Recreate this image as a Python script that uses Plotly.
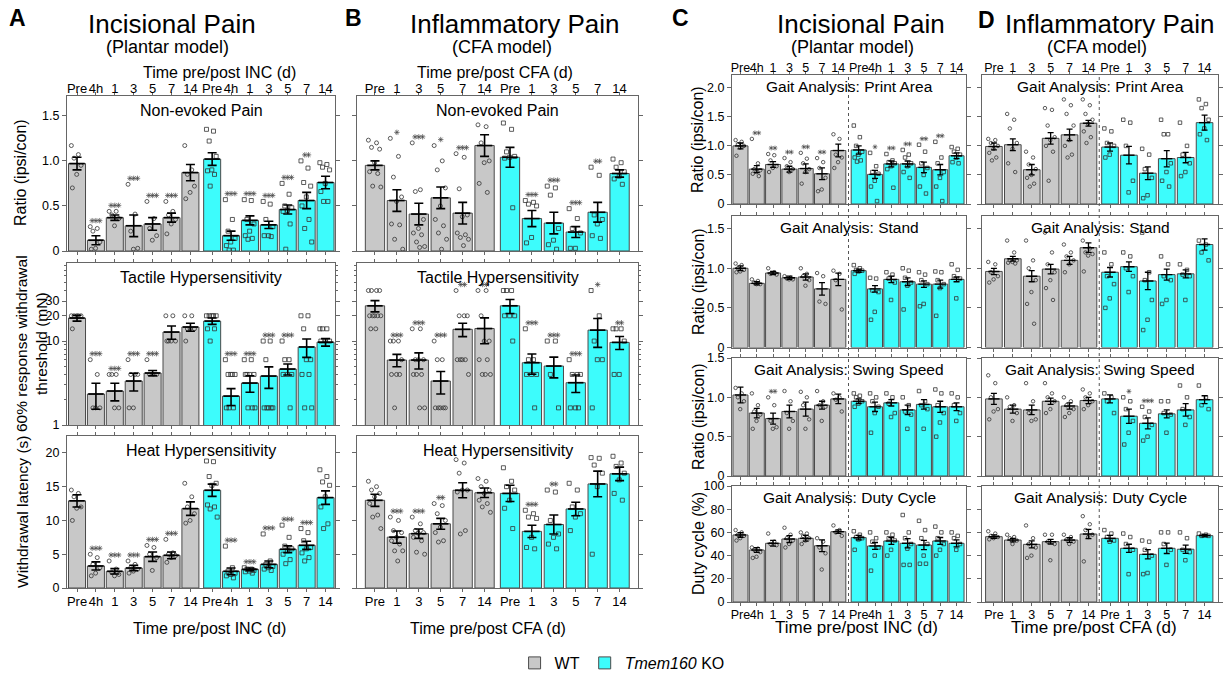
import numpy as np
import plotly.graph_objects as go

W, H = 1227, 675
FONT = 'Liberation Sans, Arial, sans-serif'
GRAY = '#c8c8c8'
CYAN = '#3dfcfc'
EDGE = '#4a4a4a'
LINE = '#666666'
PT = '#333333'

# ---------------- categories ----------------
INC_LABELS = ['Pre', '4h', '1', '3', '5', '7', '14']
CFA_LABELS = ['Pre', '1', '3', '5', '7', '14']

# ---------------- A: Incisional, Non-evoked ----------------
A1_WT = [0.97, 0.12, 0.37, 0.28, 0.30, 0.37, 0.87]
A1_WT_ERR = [0.07, 0.05, 0.03, 0.12, 0.07, 0.05, 0.09]
A1_KO = [1.02, 0.17, 0.34, 0.29, 0.46, 0.56, 0.76]
A1_KO_ERR = [0.07, 0.05, 0.05, 0.04, 0.05, 0.09, 0.07]
A1_WT_SIG = [0, 3, 3, 3, 3, 3, 0]
A1_KO_SIG = [0, 3, 3, 3, 3, 2, 0]
A1_WT_PTS = [[1.17, 1.07, 1.03, 0.95, 0.85, 0.70], [0.27, 0.25, 0.22, 0.10, 0.03, 0.02],
             [0.44, 0.44, 0.40, 0.36, 0.28], [0.74, 0.41, 0.22, 0.03, 0.02],
             [0.55, 0.36, 0.25, 0.17, 0.12], [0.55, 0.44, 0.40, 0.35, 0.30, 0.19],
             [1.17, 0.90, 0.85, 0.72, 0.65, 0.58]]
A1_KO_PTS = [[1.35, 1.33, 1.22, 1.05, 0.90, 0.89, 0.85, 0.72], [0.57, 0.35, 0.22, 0.14, 0.10, 0.06, 0.01, 0.01],
             [0.57, 0.56, 0.35, 0.30, 0.22, 0.17, 0.14, 0.13], [0.55, 0.52, 0.35, 0.27, 0.17, 0.17, 0.16],
             [0.75, 0.63, 0.50, 0.48, 0.45, 0.44, 0.30, 0.02], [1.00, 0.92, 0.76, 0.72, 0.60, 0.50, 0.35, 0.25, 0.10],
             [0.98, 0.96, 0.93, 0.90, 0.75, 0.66, 0.55, 0.55]]

# ---------------- A: Tactile ----------------
A2_WT = [18.8, 2.34, 2.54, 3.34, 4.16, 12.8, 14.7]
A2_WT_ERR = [1.5, 0.8, 0.6, 0.8, 0.3, 2.3, 1.6]
A2_KO = [17.3, 2.21, 3.16, 3.83, 4.64, 8.5, 9.7]
A2_KO_ERR = [1.5, 0.5, 0.7, 1.1, 0.7, 2.1, 1.0]
A2_WT_SIG = [0, 3, 3, 3, 3, 0, 0]
A2_KO_SIG = [0, 3, 3, 3, 3, 0, 0]
A2_WT_PTS = [[20, 20, 20, 20, 20, 14], [6, 4, 1.6, 1.6, 1.6], [4, 4, 4, 1.6, 1.6], [6, 4, 4, 4, 1.6, 1.6],
             [6, 4, 4, 4, 4], [20, 20, 10, 10, 10, 10], [20, 20, 14, 14, 14, 10]]
A2_KO_PTS = [[20, 20, 20, 20, 20, 14, 14, 10], [6, 4, 4, 4, 4, 1.6, 1.6, 1.6], [6, 6, 4, 4, 4, 4, 1.6, 1.6, 1.6],
             [10, 10, 6, 1.6, 1.6, 1.6, 1.6, 1.6], [10, 6, 6, 4, 4, 4, 1.6], [20, 20, 14, 6, 6, 4, 4, 1.6, 1.6],
             [14, 14, 14, 10, 10, 10]]

# ---------------- A: Heat ----------------
A3_WT = [12.9, 3.26, 2.47, 2.96, 4.64, 4.84, 11.75]
A3_WT_ERR = [0.9, 0.6, 0.4, 0.4, 0.7, 0.5, 1.0]
A3_KO = [14.47, 2.47, 2.76, 3.5, 5.73, 6.32, 13.38]
A3_KO_ERR = [0.9, 0.5, 0.2, 0.5, 0.5, 0.6, 1.0]
A3_WT_SIG = [0, 3, 3, 3, 3, 3, 0]
A3_KO_SIG = [0, 3, 3, 3, 3, 3, 0]
A3_WT_PTS = [[14.5, 14.0, 13.5, 12.0, 11.8, 10.0], [5.0, 4.5, 3.5, 3.0, 2.2, 1.8], [4.0, 2.8, 2.3, 2.0, 1.8],
             [4.0, 3.5, 3.0, 2.8, 2.5, 2.2], [6.3, 6.0, 5.0, 4.5, 2.6], [7.2, 5.2, 5.0, 4.8, 4.5, 3.8],
             [15.5, 13.5, 12.0, 11.0, 10.0, 9.6]]
A3_KO_PTS = [[18.8, 18.7, 16.5, 15.5, 15.2, 12.3, 12.0, 11.7, 10.5], [6.2, 3.0, 2.5, 2.2, 2.0, 1.8, 1.5],
             [3.0, 2.8, 2.8, 2.6, 2.5, 2.4, 2.2], [8.0, 4.0, 3.5, 3.2, 3.0, 2.8, 2.6],
             [9.3, 7.5, 6.2, 5.8, 5.5, 5.0, 4.2, 3.6], [8.8, 8.2, 7.0, 6.0, 5.8, 5.2, 4.5, 4.0],
             [17.5, 16.5, 15.7, 15.2, 13.5, 12.0, 9.5, 8.8]]

# ---------------- B: Inflammatory, Non-evoked ----------------
B1_WT = [0.95, 0.56, 0.41, 0.59, 0.42, 1.17]
B1_WT_ERR = [0.05, 0.12, 0.12, 0.12, 0.12, 0.12]
B1_KO = [1.04, 0.36, 0.31, 0.21, 0.43, 0.86]
B1_KO_ERR = [0.11, 0.09, 0.12, 0.06, 0.11, 0.04]
B1_WT_SIG = [0, 1, 3, 1, 3, 0]
B1_KO_SIG = [0, 3, 3, 3, 2, 0]
B1_WT_PTS = [[1.23, 1.20, 1.15, 1.13, 0.98, 0.88, 0.86, 0.72, 0.71],
             [1.25, 1.05, 0.82, 0.60, 0.55, 0.30, 0.29, 0.13, 0.02],
             [1.20, 0.68, 0.66, 0.35, 0.25, 0.20, 0.18, 0.10, 0.05, 0.04],
             [1.17, 1.00, 0.90, 0.70, 0.50, 0.35, 0.28, 0.20, 0.13, 0.02],
             [1.08, 1.04, 0.69, 0.40, 0.38, 0.20, 0.18, 0.15, 0.13, 0.06],
             [1.40, 1.38, 1.20, 1.00, 0.98, 0.75, 0.65]]
B1_KO_PTS = [[1.42, 1.35, 1.10, 1.05, 1.04, 1.03, 0.48], [0.56, 0.54, 0.52, 0.50, 0.15, 0.09],
             [0.72, 0.70, 0.62, 0.25, 0.12, 0.07, 0.02], [0.47, 0.36, 0.25, 0.20, 0.03, 0.03],
             [0.93, 0.84, 0.40, 0.35, 0.30, 0.17, 0.14], [1.02, 0.98, 0.93, 0.88, 0.83, 0.80, 0.74]]

# ---------------- B: Tactile ----------------
B2_WT = [26.3, 5.94, 5.94, 3.34, 13.8, 14.1]
B2_WT_ERR = [4.0, 1.0, 1.3, 1.0, 2.5, 4.8]
B2_KO = [26.3, 5.52, 5.04, 3.19, 13.5, 9.64]
B2_KO_ERR = [5.0, 1.5, 1.4, 0.75, 5.1, 1.7]
B2_WT_SIG = [0, 3, 3, 3, 2, 2]
B2_KO_SIG = [0, 3, 3, 3, 1, 2]
B2_WT_PTS = [[40, 40, 40, 40, 20, 20, 20, 20, 20, 14, 14], [10, 10, 10, 6, 4, 4, 4, 1.6],
             [14, 14, 6, 6, 6, 4, 4, 4, 1.6, 1.6], [10, 6, 6, 1.6, 1.6, 1.6, 1.6, 1.6],
             [40, 20, 20, 20, 6, 6, 6, 6, 4], [40, 40, 20, 10, 10, 6, 6, 4, 4, 4]]
B2_KO_PTS = [[40, 40, 40, 20, 20, 20, 10], [14, 6, 6, 4, 4, 4, 1.6], [10, 10, 4, 1.6],
             [6, 4, 4, 4, 1.6, 1.6, 1.6], [40, 20, 10, 6, 6, 1.6], [14, 14, 14, 10, 4, 4]]

# ---------------- B: Heat ----------------
B3_WT = [12.98, 7.53, 8.04, 9.5, 14.47, 14.1]
B3_WT_ERR = [0.9, 0.9, 0.7, 0.8, 1.1, 0.7]
B3_KO = [14.0, 8.38, 9.4, 11.7, 15.4, 16.9]
B3_KO_ERR = [1.2, 0.9, 1.4, 1.0, 1.9, 1.0]
B3_WT_SIG = [0, 3, 3, 2, 0, 0]
B3_KO_SIG = [0, 3, 2, 0, 0, 0]
B3_WT_PTS = [[15.8, 15.0, 14.5, 14.0, 13.5, 12.5, 10.8, 10.5, 8.8],
             [10.5, 10.0, 8.5, 8.2, 7.5, 7.0, 6.5, 5.5, 5.5, 4.0],
             [10.5, 9.5, 8.5, 8.2, 8.1, 7.5, 7.0, 5.3, 5.0], [12.5, 12.2, 11.0, 10.0, 9.0, 8.2, 7.0, 6.8],
             [19.0, 18.5, 17.0, 14.5, 14.5, 14.2, 8.5, 8.0], [16.2, 15.8, 15.0, 14.5, 14.0, 13.0, 12.5, 12.0, 11.2]]
B3_KO_PTS = [[17.8, 15.8, 15.0, 14.5, 13.0, 11.8, 8.8], [11.5, 11.0, 10.5, 10.3, 7.5, 6.0, 5.8],
             [14.5, 14.2, 10.0, 8.0, 7.5, 6.5, 5.8], [15.5, 14.5, 12.0, 11.0, 10.5, 8.5],
             [19.3, 19.2, 18.2, 17.0, 15.0, 5.0], [19.5, 18.5, 18.0, 17.0, 16.0, 14.0, 13.0]]

# ---------------- C: Gait, incisional ----------------
C1_WT = [1.00, 0.60, 0.68, 0.60, 0.61, 0.52, 0.92]
C1_WT_ERR = [0.05, 0.06, 0.05, 0.05, 0.08, 0.10, 0.11]
C1_KO = [0.93, 0.51, 0.69, 0.69, 0.63, 0.59, 0.83]
C1_KO_ERR = [0.07, 0.07, 0.05, 0.05, 0.09, 0.09, 0.05]
C1_WT_SIG = [0, 2, 2, 2, 2, 2, 0]
C1_KO_SIG = [0, 1, 2, 2, 2, 2, 0]
C1_WT_PTS = [[1.10, 1.07, 1.03, 1.00, 0.97, 0.83], [1.12, 0.70, 0.60, 0.58, 0.55, 0.52, 0.48],
             [0.86, 0.84, 0.75, 0.65, 0.62, 0.55], [0.79, 0.72, 0.65, 0.60, 0.55],
             [0.88, 0.78, 0.70, 0.60, 0.55, 0.35], [0.79, 0.72, 0.62, 0.45, 0.25, 0.22],
             [1.20, 1.12, 0.85, 0.80, 0.72, 0.62]]
C1_KO_PTS = [[1.35, 1.15, 1.00, 0.90, 0.85, 0.80, 0.75, 0.73], [0.88, 0.65, 0.55, 0.52, 0.40, 0.30, 0.05],
             [0.86, 0.75, 0.72, 0.70, 0.65, 0.60, 0.28], [0.93, 0.85, 0.80, 0.70, 0.65, 0.55, 0.45],
             [1.02, 0.90, 0.70, 0.62, 0.50, 0.30, 0.18], [1.07, 0.80, 0.70, 0.55, 0.45, 0.30, 0.05],
             [0.98, 0.95, 0.90, 0.85, 0.80, 0.72, 0.70]]

C2_WT = [1.00, 0.81, 0.94, 0.88, 0.89, 0.74, 0.86]
C2_WT_ERR = [0.03, 0.02, 0.02, 0.02, 0.04, 0.08, 0.08]
C2_KO = [0.97, 0.74, 0.86, 0.83, 0.80, 0.80, 0.86]
C2_KO_ERR = [0.02, 0.04, 0.04, 0.05, 0.04, 0.05, 0.03]
C2_WT_PTS = [[1.06, 1.04, 1.00, 0.98, 0.96, 0.95], [0.86, 0.84, 0.82, 0.80, 0.80], [1.00, 0.95, 0.93, 0.92],
             [0.90, 0.88, 0.87, 0.86, 0.86], [1.00, 0.93, 0.90, 0.85, 0.78], [0.94, 0.90, 0.58, 0.55],
             [0.97, 0.93, 0.85, 0.48]]
C2_KO_PTS = [[1.04, 1.00, 0.98, 0.97, 0.96, 0.93], [0.88, 0.87, 0.72, 0.70, 0.45, 0.35],
             [0.95, 0.92, 0.87, 0.82, 0.60], [1.00, 0.97, 0.88, 0.82, 0.78, 0.48],
             [0.95, 0.92, 0.85, 0.80, 0.55, 0.52], [0.96, 0.95, 0.85, 0.80, 0.75, 0.40],
             [1.05, 0.98, 0.90, 0.87, 0.62]]

C3_WT = [1.03, 0.80, 0.73, 0.82, 0.85, 0.90, 0.98]
C3_WT_ERR = [0.10, 0.06, 0.07, 0.08, 0.09, 0.05, 0.06]
C3_KO = [0.95, 0.88, 0.93, 0.84, 0.91, 0.88, 0.88]
C3_KO_ERR = [0.03, 0.06, 0.04, 0.06, 0.06, 0.07, 0.05]
C3_WT_SIG = [0, 0, 2, 0, 0, 0, 0]
C3_WT_PTS = [[1.12, 1.05, 1.00, 0.95, 0.85], [1.05, 0.90, 0.82, 0.78, 0.70, 0.60], [1.00, 0.90, 0.70, 0.62, 0.60],
             [1.08, 0.95, 0.80, 0.70, 0.60], [1.07, 1.00, 0.90, 0.72, 0.60], [1.08, 0.95, 0.90, 0.88, 0.70],
             [1.05, 1.00, 0.97, 0.82]]
C3_KO_PTS = [[1.05, 1.02, 1.00, 0.95, 0.92, 0.88], [1.05, 1.00, 0.95, 0.88, 0.80, 0.55],
             [1.05, 1.00, 0.92, 0.80, 0.75], [1.00, 0.90, 0.82, 0.78, 0.60], [1.08, 0.95, 0.90, 0.85, 0.60],
             [1.10, 1.05, 0.90, 0.80, 0.68, 0.50], [1.05, 1.00, 0.90, 0.80, 0.70]]

C4_WT = [57.8, 44.8, 50.6, 54.3, 54.9, 48.5, 60.6]
C4_WT_ERR = [2, 2, 2.5, 3, 2.5, 5, 1.5]
C4_KO = [55.5, 48.3, 52.6, 50.6, 49.1, 52.6, 50.6]
C4_KO_ERR = [2, 3, 3, 4, 4, 3, 3]
C4_WT_PTS = [[62, 60, 58, 57, 55, 53], [47, 46, 45, 43, 39, 38], [59, 52, 50, 49], [64, 58, 55, 53, 50, 47],
             [60, 59, 57, 55, 53, 50], [55, 52, 47, 42, 28], [66, 62, 60, 57]]
C4_KO_PTS = [[61, 58, 56, 55, 54, 45], [60, 55, 52, 47, 40, 27], [60, 58, 55, 53, 45, 40],
             [75, 60, 55, 50, 46, 32, 32], [70, 62, 55, 50, 40, 33, 33], [65, 60, 55, 50, 45, 40],
             [60, 57, 55, 50, 45]]

# ---------------- D: Gait, inflammatory ----------------
D1_WT = [0.99, 1.02, 0.59, 1.13, 1.19, 1.39]
D1_WT_ERR = [0.06, 0.10, 0.09, 0.10, 0.10, 0.05]
D1_KO = [0.98, 0.84, 0.53, 0.78, 0.80, 1.40]
D1_KO_ERR = [0.07, 0.15, 0.11, 0.14, 0.09, 0.13]
D1_WT_PTS = [[1.12, 1.10, 1.05, 1.00, 0.95, 0.88, 0.80, 0.75], [1.55, 1.45, 1.30, 1.05, 0.95, 0.70, 0.55],
             [0.90, 0.80, 0.68, 0.60, 0.50, 0.45, 0.35, 0.30], [1.65, 1.62, 1.35, 1.15, 1.10, 1.00, 0.90, 0.40],
             [1.80, 1.70, 1.55, 1.35, 1.10, 1.00, 0.85, 0.80], [1.80, 1.70, 1.55, 1.45, 1.38, 1.25, 1.15, 1.05]]
D1_KO_PTS = [[1.30, 1.25, 1.05, 1.00, 0.85, 0.80], [1.45, 1.40, 1.00, 0.40, 0.20],
             [0.95, 0.85, 0.60, 0.45, 0.15, 0.10], [1.45, 1.20, 1.20, 0.70, 0.55, 0.40, 0.30],
             [1.40, 1.00, 0.85, 0.70, 0.55, 0.48], [1.80, 1.72, 1.65, 1.45, 1.30, 1.20, 1.10]]

D2_WT = [0.96, 1.12, 0.90, 0.99, 1.10, 1.26]
D2_WT_ERR = [0.04, 0.03, 0.07, 0.06, 0.05, 0.06]
D2_KO = [0.95, 1.02, 0.84, 0.92, 0.93, 1.30]
D2_KO_ERR = [0.06, 0.06, 0.11, 0.07, 0.05, 0.07]
D2_WT_PTS = [[1.08, 1.05, 0.95, 0.90, 0.86, 0.82], [1.35, 1.20, 1.10, 1.10, 1.08, 1.07, 1.06],
             [1.35, 1.10, 1.00, 0.85, 0.70, 0.55, 0.30], [1.45, 1.20, 1.05, 0.95, 0.85, 0.75, 0.60],
             [1.30, 1.20, 1.15, 1.10, 1.05, 0.95], [1.35, 1.25, 1.20, 1.18, 1.16, 0.96]]
D2_KO_PTS = [[1.20, 1.05, 0.90, 0.80, 0.62, 0.50], [1.20, 1.15, 1.00, 0.90, 0.70],
             [1.45, 0.95, 0.85, 0.60, 0.35, 0.22], [1.15, 1.05, 0.90, 0.85, 0.60, 0.55],
             [1.05, 0.98, 0.92, 0.90, 0.60], [1.35, 1.30, 1.20, 1.10]]

D3_WT = [0.98, 0.85, 0.84, 0.95, 0.89, 0.96]
D3_WT_ERR = [0.07, 0.05, 0.06, 0.04, 0.04, 0.04]
D3_KO = [0.98, 0.76, 0.67, 0.79, 0.84, 0.97]
D3_KO_ERR = [0.05, 0.09, 0.07, 0.05, 0.08, 0.05]
D3_KO_SIG = [0, 1, 3, 0, 0, 0]
D3_WT_PTS = [[1.28, 1.18, 1.00, 0.85, 0.82, 0.72], [1.00, 0.90, 0.88, 0.80, 0.70], [1.18, 0.95, 0.80, 0.72, 0.70],
             [1.18, 1.05, 1.00, 0.95, 0.85, 0.80], [1.00, 0.95, 0.90, 0.85, 0.80, 0.75],
             [1.10, 1.05, 1.00, 0.95, 0.90, 0.85]]
D3_KO_PTS = [[1.05, 1.00, 0.95, 0.80], [1.00, 0.95, 0.85, 0.70, 0.55, 0.40], [0.88, 0.82, 0.75, 0.65, 0.50, 0.45],
             [0.95, 0.95, 0.80, 0.78, 0.55], [1.15, 1.00, 0.85, 0.75, 0.65], [1.15, 1.00, 0.90, 0.85]]

D4_WT = [56.3, 53.4, 49.7, 52.0, 53.4, 58.6]
D4_WT_ERR = [1.5, 1.5, 3, 2, 2, 4]
D4_KO = [54.9, 46.3, 41.1, 46.3, 45.5, 57.2]
D4_KO_ERR = [2.5, 3.5, 4, 4.5, 3.5, 1]
D4_WT_PTS = [[61, 59, 57, 56, 55, 54], [58, 56, 55, 53, 50], [66, 55, 50, 47, 40, 38], [58, 58, 52, 50, 36],
             [58, 56, 54, 52, 50], [74, 67, 62, 58, 56, 35]]
D4_KO_PTS = [[62, 59, 56, 53, 52], [59, 56, 50, 45, 24], [53, 52, 45, 40, 25, 24], [60, 60, 50, 45, 32],
             [60, 55, 45, 43, 36], [59, 58, 57, 57]]

# ---------------- tick specs ----------------
T_RATIO = ([0, 0.5, 1, 1.5], ['0', '0.5', '1.0', '1.5'])
T_LOG = ([1, 10, 20, 30], ['1', '10', '20', '30'])
T_HEAT = ([0, 5, 10, 15, 20], ['0', '5', '10', '15', '20'])
T_GAIT1 = ([0, 0.5, 1, 1.5, 2], ['0', '0.5', '1.0', '1.5', '2.0'])
T_DUTY = ([0, 20, 40, 60, 80, 100], ['0', '20', '40', '60', '80', '100'])
LOG_MINOR = [2, 3, 4, 5, 6, 7, 8, 9, 40, 50, 60, 70, 80]

# ---------------- layout geometry (pixels) ----------------
COLS = {
    'A': dict(x0=67, x1=335, xr=[-0.53, 13.65], ko0=7.15, n=7, labels=INC_LABELS, bw=0.9, ylab=True),
    'B': dict(x0=357, x1=638, xr=[-0.82, 12.0], ko0=6.16, n=6, labels=CFA_LABELS, bw=0.88, ylab=False),
    'C': dict(x0=732, x1=966, xr=[-0.52, 13.83], ko0=7.25, n=7, labels=INC_LABELS, bw=0.92, ylab=True),
    'D': dict(x0=982, x1=1218, xr=[-0.63, 11.85], ko0=6.14, n=6, labels=CFA_LABELS, bw=0.88, ylab=False),
}
ROWS_AB = [(96, 251), (263, 425), (436, 588)]
ROWS_CD = [(75, 204), (216, 347.5), (358, 476), (486, 602)]

fig = go.Figure()
axes_layout = {}
annotations = []


def jitter(n, half=0.3):
    if n == 1:
        return [0.0]
    return [(((k * 0.618034) % 1.0) - 0.5) * 2 * half for k in range(n)]


def ax_names(n):
    s = '' if n == 1 else str(n)
    return 'x' + s, 'y' + s, 'xaxis' + s, 'yaxis' + s


def add_panel(n, col, box, yr, ylog, yt, title, kind, wt, wte, ko, koe, wtp, kop,
              wts=None, kos=None, legend=False):
    c = COLS[col]
    xn, yn, xk, yk = ax_names(n)
    pw = np.arange(c['n'], dtype=float)
    pk = c['ko0'] + np.arange(c['n'])
    y0, y1 = box
    hpx = y1 - y0
    px_per_unit = (c['x1'] - c['x0']) / (c['xr'][1] - c['xr'][0])
    small = col in 'CD'
    groups = [(pw, wt, wte, wtp, wts, GRAY, 'circle-open', 'WT'),
              (pk, ko, koe, kop, kos, CYAN, 'square-open', '<i>Tmem160</i> KO')]
    for pos, m, e, pts, sig, color, sym, name in groups:
        fig.add_trace(go.Bar(x=pos, y=m, width=c['bw'], name=name, showlegend=legend,
                             marker=dict(color=color, line=dict(color=EDGE, width=1)),
                             xaxis=xn, yaxis=yn, hoverinfo='skip'))
        xs, ys = [], []
        for p, vals in zip(pos, pts):
            for o, v in zip(jitter(len(vals), 0.3), vals):
                xs.append(p + o)
                ys.append(v)
        fig.add_trace(go.Scatter(x=xs, y=ys, mode='markers', showlegend=False, hoverinfo='skip',
                                 marker=dict(symbol=sym, size=3.5 if small else 4, color=PT,
                                             line=dict(width=0.8, color=PT)),
                                 xaxis=xn, yaxis=yn))
        fig.add_trace(go.Scatter(x=pos, y=m, mode='markers', showlegend=False, hoverinfo='skip',
                                 marker=dict(symbol='line-ew', size=8 if small else 11,
                                             line=dict(width=1.4 if small else 1.7, color='black')),
                                 error_y=dict(type='data', array=e, color='black',
                                              thickness=1.3 if small else 1.6, width=3 if small else 4.5),
                                 xaxis=xn, yaxis=yn))
        if sig:
            # significance stars drawn as small asterisk markers above the highest mark
            span = yr[1] - yr[0]
            dx = 3.8 / px_per_unit
            sx, sy = [], []
            for p, mm, ee, vals, s in zip(pos, m, e, pts, sig):
                if not s:
                    continue
                top = max(max(vals), mm + ee)
                if ylog:
                    yv = 10 ** (np.log10(top) + 6 * span / hpx)
                else:
                    yv = top + 6 * span / hpx
                for k in range(s):
                    sx.append(p + (k - (s - 1) / 2) * dx)
                    sy.append(yv)
            fig.add_trace(go.Scatter(x=sx, y=sy, mode='markers', showlegend=False, hoverinfo='skip',
                                     cliponaxis=False,
                                     marker=dict(symbol='asterisk-open', size=4 if small else 4.5,
                                                 color='#444', line=dict(width=0.7, color='#444')),
                                     xaxis=xn, yaxis=yn))

    axes_layout[xk] = dict(
        domain=[c['x0'] / W, c['x1'] / W], range=c['xr'], anchor=yn,
        tickmode='array', tickvals=list(pw) + list(pk), ticktext=c['labels'] * 2, tickangle=0,
        side='top' if kind == 'top' else 'bottom', showticklabels=kind in ('top', 'bottom'),
        ticklabelstandoff=(-6 if kind == 'top' else -2),
        ticks='outside', ticklen=3, tickcolor=LINE, showline=True, linecolor=LINE, linewidth=1.2,
        mirror='ticks', showgrid=False, zeroline=False, fixedrange=True, automargin=False,
        tickfont=dict(family=FONT, size=12.5 if small else 13, color='black'))
    ya = dict(
        domain=[1 - y1 / H, 1 - y0 / H], range=yr, type='log' if ylog else 'linear', anchor=xn,
        tickmode='array', tickvals=yt[0], ticktext=yt[1], showticklabels=c['ylab'],
        ticks='outside', ticklen=4, tickcolor=LINE, showline=True, linecolor=LINE, linewidth=1.2,
        mirror='ticks', showgrid=False, zeroline=False, fixedrange=True, automargin=False,
        tickfont=dict(family=FONT, size=12.5, color='black'))
    if ylog:
        ya['minor'] = dict(tickmode='array', tickvals=LOG_MINOR, ticks='outside', ticklen=2,
                           tickcolor=LINE)
    axes_layout[yk] = ya
    annotations.append(dict(text=title, x=(c['x0'] + c['x1']) / 2 / W,
                            y=1 - (y0 + (11 if small else 14)) / H,
                            xref='paper', yref='paper', showarrow=False, xanchor='center', yanchor='middle',
                            font=dict(family=FONT, size=15.5 if small else 16, color='black')))


# ---- Panel A ----
add_panel(1, 'A', ROWS_AB[0], [0, 1.72], False, T_RATIO, 'Non-evoked Pain', 'top',
          A1_WT, A1_WT_ERR, A1_KO, A1_KO_ERR, A1_WT_PTS, A1_KO_PTS, A1_WT_SIG, A1_KO_SIG, legend=True)
add_panel(2, 'A', ROWS_AB[1], [0, 1.93], True, T_LOG, 'Tactile Hypersensitivity', 'mid',
          A2_WT, A2_WT_ERR, A2_KO, A2_KO_ERR, A2_WT_PTS, A2_KO_PTS, A2_WT_SIG, A2_KO_SIG)
add_panel(3, 'A', ROWS_AB[2], [0, 22.5], False, T_HEAT, 'Heat Hypersensitivity', 'bottom',
          A3_WT, A3_WT_ERR, A3_KO, A3_KO_ERR, A3_WT_PTS, A3_KO_PTS, A3_WT_SIG, A3_KO_SIG)
# ---- Panel B ----
add_panel(4, 'B', ROWS_AB[0], [0, 1.72], False, T_RATIO, 'Non-evoked Pain', 'top',
          B1_WT, B1_WT_ERR, B1_KO, B1_KO_ERR, B1_WT_PTS, B1_KO_PTS, B1_WT_SIG, B1_KO_SIG)
add_panel(5, 'B', ROWS_AB[1], [0, 1.93], True, T_LOG, 'Tactile Hypersensitivity', 'mid',
          B2_WT, B2_WT_ERR, B2_KO, B2_KO_ERR, B2_WT_PTS, B2_KO_PTS, B2_WT_SIG, B2_KO_SIG)
add_panel(6, 'B', ROWS_AB[2], [0, 22.5], False, T_HEAT, 'Heat Hypersensitivity', 'bottom',
          B3_WT, B3_WT_ERR, B3_KO, B3_KO_ERR, B3_WT_PTS, B3_KO_PTS, B3_WT_SIG, B3_KO_SIG)
# ---- Panel C ----
add_panel(7, 'C', ROWS_CD[0], [0, 2.22], False, T_GAIT1, 'Gait Analysis: Print Area', 'top',
          C1_WT, C1_WT_ERR, C1_KO, C1_KO_ERR, C1_WT_PTS, C1_KO_PTS, C1_WT_SIG, C1_KO_SIG)
add_panel(8, 'C', ROWS_CD[1], [0, 1.66], False, T_RATIO, 'Gait Analysis: Stand', 'mid',
          C2_WT, C2_WT_ERR, C2_KO, C2_KO_ERR, C2_WT_PTS, C2_KO_PTS)
add_panel(9, 'C', ROWS_CD[2], [0, 1.5], False, T_RATIO, 'Gait Analysis: Swing Speed', 'mid',
          C3_WT, C3_WT_ERR, C3_KO, C3_KO_ERR, C3_WT_PTS, C3_KO_PTS, C3_WT_SIG, None)
add_panel(10, 'C', ROWS_CD[3], [0, 100], False, T_DUTY, 'Gait Analysis: Duty Cycle', 'bottom',
          C4_WT, C4_WT_ERR, C4_KO, C4_KO_ERR, C4_WT_PTS, C4_KO_PTS)
# ---- Panel D ----
add_panel(11, 'D', ROWS_CD[0], [0, 2.22], False, T_GAIT1, 'Gait Analysis: Print Area', 'top',
          D1_WT, D1_WT_ERR, D1_KO, D1_KO_ERR, D1_WT_PTS, D1_KO_PTS)
add_panel(12, 'D', ROWS_CD[1], [0, 1.66], False, T_RATIO, 'Gait Analysis: Stand', 'mid',
          D2_WT, D2_WT_ERR, D2_KO, D2_KO_ERR, D2_WT_PTS, D2_KO_PTS)
add_panel(13, 'D', ROWS_CD[2], [0, 1.5], False, T_RATIO, 'Gait Analysis: Swing Speed', 'mid',
          D3_WT, D3_WT_ERR, D3_KO, D3_KO_ERR, D3_WT_PTS, D3_KO_PTS, None, D3_KO_SIG)
add_panel(14, 'D', ROWS_CD[3], [0, 100], False, T_DUTY, 'Gait Analysis: Duty Cycle', 'bottom',
          D4_WT, D4_WT_ERR, D4_KO, D4_KO_ERR, D4_WT_PTS, D4_KO_PTS)


def label(text, x, y, size, bold=False, angle=0):
    t = '<b>%s</b>' % text if bold else text
    annotations.append(dict(text=t, x=x / W, y=1 - y / H, xref='paper', yref='paper', showarrow=False,
                            xanchor='center', yanchor='middle', textangle=angle,
                            font=dict(family=FONT, size=size, color='black')))


# headers
label('A', 17, 18, 23, bold=True)
label('Incisional Pain', 172, 24, 26)
label('(Plantar model)', 167, 47, 18)
label('Time pre/post INC (d)', 219, 73, 16)
label('B', 353, 18, 23, bold=True)
label('Inflammatory Pain', 515, 24, 26)
label('(CFA model)', 502, 47, 18)
label('Time pre/post CFA (d)', 495, 73, 16)
label('C', 680, 18, 23, bold=True)
label('Incisional Pain', 861, 24, 26)
label('(Plantar model)', 852, 47, 18)
label('D', 986, 20, 23, bold=True)
label('Inflammatory Pain', 1110, 24, 26)
label('(CFA model)', 1097, 47, 18)
# bottom axis titles
label('Time pre/post INC (d)', 209, 628, 16)
label('Time pre/post CFA (d)', 488, 628, 16)
label('Time pre/post INC (d)', 856, 627, 17)
label('Time pre/post CFA (d)', 1094, 627, 17)
# y axis titles
label('Ratio (ipsi/con)', 21, 173, 16, angle=-90)
label('60% response withdrawal<br>threshold (mN)', 31, 344, 15.5, angle=-90)
label('Withdrawal latency (s)', 22, 512, 15.5, angle=-90)
label('Ratio (ipsi/con)', 698, 140, 16, angle=-90)
label('Ratio (ipsi/con)', 698, 282, 16, angle=-90)
label('Ratio (ipsi/con)', 698, 417, 16, angle=-90)
label('Duty cycle (%)', 698, 544, 16, angle=-90)

# dotted separators between WT and KO in C and D
shapes = []
for col, xref in (('C', 'x7'), ('D', 'x11')):
    c = COLS[col]
    xsep = ((c['n'] - 1) + c['ko0']) / 2
    shapes.append(dict(type='line', xref=xref, yref='paper', x0=xsep, x1=xsep,
                       y0=1 - 602 / H, y1=1 - 75 / H, line=dict(color='#555', width=1, dash='dot')))

fig.update_layout(axes_layout)
fig.update_layout(
    width=W, height=H, margin=dict(l=0, r=0, t=0, b=0, autoexpand=False),
    paper_bgcolor='white', plot_bgcolor='white', barmode='overlay',
    annotations=annotations, shapes=shapes,
    font=dict(family=FONT, color='black'),
    legend=dict(orientation='h', x=0.507, y=1 - 663 / H, xanchor='center', yanchor='middle',
                font=dict(family=FONT, size=16, color='black'), bgcolor='rgba(0,0,0,0)',
                itemwidth=30, traceorder='normal'),
)

fig.write_html('out.html', config={'displayModeBar': False},
               post_script="document.body.style.margin='0px';")
